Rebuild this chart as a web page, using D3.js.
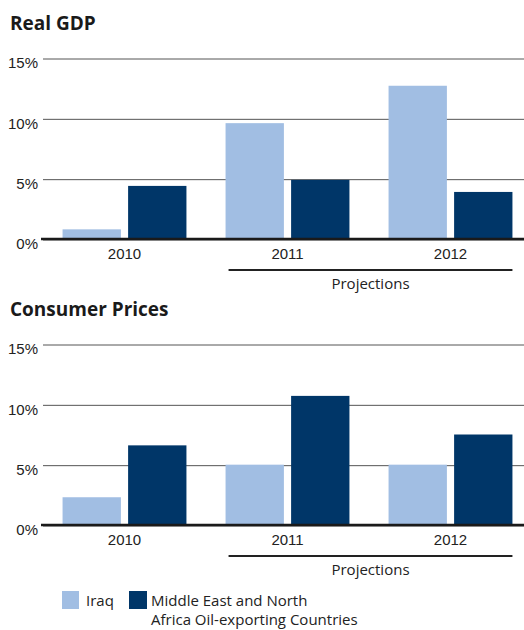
<!DOCTYPE html>
<html>
<head>
<meta charset="utf-8">
<script src="https://cdn.jsdelivr.net/npm/d3@7"></script>
<style>
  body { margin: 0; background: #fff; }
  svg { display: block; font-family: "Open Sans", "Noto Sans", sans-serif; }
</style>
</head>
<body>
<svg width="524" height="630"></svg>
<script>
var years = ["2010", "2011", "2012"];
var seriesNames = ["Iraq", "Middle East and North Africa Oil-exporting Countries"];
var gdpIraq = [0.8, 9.6, 12.7];
var gdpMena = [4.4, 4.9, 3.9];
var cpiIraq = [2.3, 5.0, 5.0];
var cpiMena = [6.6, 10.7, 7.5];
var yTicks = [0, 5, 10, 15];
var colors = ["#a1bee3", "#003668"];

var svg = d3.select("svg");
var width = 524;

var x0 = d3.scaleBand().domain(years).range([43, 532]).paddingInner(0.24).paddingOuter(0.12);
var x1 = d3.scaleBand().domain(d3.range(2)).range([0, x0.bandwidth()]).paddingInner(0.11);

function panel(title, iraq, mena, top) {
  var g = svg.append("g").attr("transform", "translate(0," + top + ")");
  var y = d3.scaleLinear().domain([0, 15]).range([181, 0]);

  g.append("text").attr("x", 10).attr("y", -28)
    .style("font-size", "19px").style("font-weight", "bold").style("fill", "#1a1a1a")
    .text(title);

  // gridlines + tick labels via axis
  var ax = g.append("g").attr("transform", "translate(43,0.5)")
    .call(d3.axisLeft(y).tickValues(yTicks).tickFormat(function(d){ return d + "%"; }).tickSize(-(width - 43)).tickPadding(5));
  ax.select(".domain").remove();
  ax.selectAll(".tick line").attr("stroke", "#555");
  ax.selectAll(".tick text").style("font-size", "15px").style("fill", "#222").attr("dy", "0.62em").attr("x", -5);

  var rows = years.map(function(yr, i){ return { year: yr, vals: [iraq[i], mena[i]] }; });
  var grp = g.selectAll(".grp").data(rows).enter().append("g")
    .attr("transform", function(d){ return "translate(" + x0(d.year) + ",0)"; });
  grp.selectAll("rect").data(function(d){ return d.vals; }).enter().append("rect")
    .attr("x", function(d, i){ return x1(i); })
    .attr("width", x1.bandwidth())
    .attr("y", function(d){ return y(d); })
    .attr("height", function(d){ return y(0) - y(d); })
    .attr("fill", function(d, i){ return colors[i]; });

  // zero line
  g.append("line").attr("x1", 41).attr("x2", width).attr("y1", y(0)).attr("y2", y(0))
    .attr("stroke", "#1a1a1a").attr("stroke-width", 2.5);

  var xa = g.append("g").attr("transform", "translate(0," + y(0) + ")")
    .call(d3.axisBottom(x0).tickSize(0).tickPadding(9));
  xa.select(".domain").remove();
  xa.selectAll(".tick text").style("font-size", "15px").style("fill", "#222");

  // projections bracket
  g.append("line").attr("x1", x0("2011") + 3).attr("x2", x0("2012") + x0.bandwidth())
    .attr("y1", y(0) + 31).attr("y2", y(0) + 31).attr("stroke", "#222").attr("stroke-width", 2);
  g.append("text").attr("x", (x0("2011") + 3 + x0("2012") + x0.bandwidth()) / 2).attr("y", y(0) + 50)
    .attr("text-anchor", "middle").style("font-size", "15px").style("fill", "#222").text("Projections");
}

panel("Real GDP", gdpIraq, gdpMena, 58);
panel("Consumer Prices", cpiIraq, cpiMena, 344);

// legend
var leg = svg.append("g").attr("transform", "translate(0,591)");
leg.append("rect").attr("x", 62).attr("y", 0).attr("width", 17).attr("height", 18).attr("fill", colors[0]);
leg.append("text").attr("x", 86).attr("y", 15).style("font-size", "15px").style("fill", "#222").text(seriesNames[0]);
leg.append("rect").attr("x", 129).attr("y", 0).attr("width", 18).attr("height", 18).attr("fill", colors[1]);
var t = leg.append("text").attr("x", 151).attr("y", 15).style("font-size", "15px").style("fill", "#222");
t.append("tspan").attr("x", 151).text("Middle East and North");
t.append("tspan").attr("x", 151).attr("dy", 19).text("Africa Oil-exporting Countries");
</script>
</body>
</html>
